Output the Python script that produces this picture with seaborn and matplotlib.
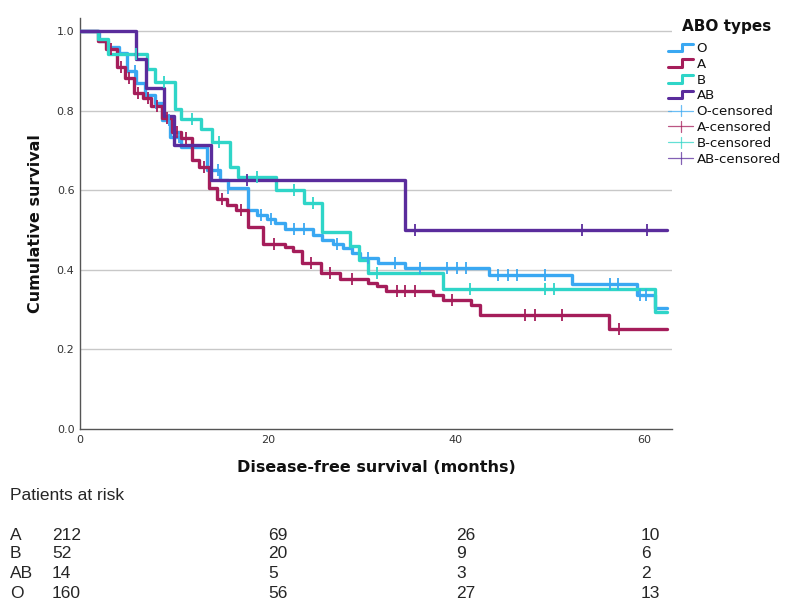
import numpy as np
import matplotlib
matplotlib.use("Agg")
import matplotlib.pyplot as plt
import seaborn as sns
from matplotlib.lines import Line2D
from matplotlib.legend_handler import HandlerBase

# ---------------- data ----------------
groups = ["O", "A", "B", "AB"]
colors = {"O": "#3AA8F2", "A": "#A51D5A", "B": "#2FD5C8", "AB": "#5A2C9C"}

O_times = [0, 2.0, 3.0, 4.1, 5.0, 6.0, 6.9, 8.0, 8.7, 9.6, 10.8, 13.5, 14.9, 15.8, 17.9,
           18.8, 19.9, 20.7, 21.8, 24.8, 25.8, 26.9, 28.0, 28.9, 29.8, 31.7, 34.6, 43.5,
           52.4, 59.3, 61.2, 62.5]
O_surv = [1.0, 0.975, 0.961, 0.944, 0.900, 0.870, 0.839, 0.818, 0.776, 0.734, 0.709, 0.651,
          0.626, 0.605, 0.550, 0.538, 0.528, 0.518, 0.502, 0.487, 0.476, 0.465, 0.454, 0.443,
          0.429, 0.418, 0.404, 0.387, 0.364, 0.336, 0.303, 0.303]
O_cens = [5.9, 8.1, 9.5, 10.5, 14.7, 15.8, 19.3, 20.3, 22.8, 23.8, 27.4, 30.6, 33.5, 36.2,
          39.1, 40.1, 41.1, 44.5, 45.5, 46.5, 49.5, 56.4, 57.3, 59.6, 60.2]

A_times = [0, 1.95, 2.8, 3.9, 4.8, 5.7, 6.7, 7.6, 8.7, 9.8, 10.8, 11.9, 12.7, 13.7, 14.6,
           15.6, 16.6, 17.9, 19.5, 21.8, 22.7, 23.6, 25.7, 27.7, 30.7, 31.6, 32.6, 37.6,
           38.6, 41.6, 42.6, 56.3, 62.5]
A_surv = [1.0, 0.976, 0.954, 0.910, 0.883, 0.843, 0.831, 0.812, 0.781, 0.747, 0.730, 0.676,
          0.659, 0.605, 0.577, 0.563, 0.549, 0.507, 0.465, 0.458, 0.448, 0.418, 0.391, 0.376,
          0.368, 0.359, 0.347, 0.337, 0.324, 0.312, 0.286, 0.251, 0.251]
A_cens = [3.3, 4.4, 5.2, 6.2, 7.2, 8.2, 9.3, 10.3, 11.3, 13.2, 15.1, 17.1, 20.6, 24.6, 26.6,
          28.9, 33.7, 34.6, 35.6, 39.6, 47.4, 48.4, 51.3, 57.4]

B_times = [0, 1.95, 3.0, 7.1, 8.0, 10.1, 10.7, 12.9, 14.0, 16.0, 16.8, 20.9, 23.8, 25.8,
           28.7, 29.7, 30.7, 38.6, 61.2, 62.5]
B_surv = [1.0, 0.981, 0.942, 0.904, 0.873, 0.803, 0.778, 0.755, 0.722, 0.659, 0.634, 0.600,
          0.567, 0.496, 0.460, 0.425, 0.391, 0.351, 0.295, 0.295]
B_cens = [6.0, 8.9, 11.9, 14.8, 18.8, 22.8, 24.8, 31.6, 41.5, 49.5, 50.4]

AB_times = [0, 6.0, 7.0, 8.9, 10.0, 13.9, 34.6, 62.5]
AB_surv = [1.0, 0.929, 0.857, 0.786, 0.714, 0.625, 0.5, 0.5]
AB_cens = [17.8, 35.6, 53.4, 60.3]

risk_rows = ["A", "B", "AB", "O"]
risk_times = [0, 20, 40, 60]
risk_A = [212, 69, 26, 10]
risk_B = [52, 20, 9, 6]
risk_AB = [14, 5, 3, 2]
risk_O = [160, 56, 27, 13]

curves = {
    "O": (O_times, O_surv, O_cens),
    "A": (A_times, A_surv, A_cens),
    "B": (B_times, B_surv, B_cens),
    "AB": (AB_times, AB_surv, AB_cens),
}
risk = {"A": risk_A, "B": risk_B, "AB": risk_AB, "O": risk_O}

# ---------------- style ----------------
sns.set_theme(style="white")
plt.rcParams["font.family"] = ["Liberation Sans Narrow", "Liberation Sans", "DejaVu Sans"]

W, H = 791, 613
fig = plt.figure(figsize=(W / 100, H / 100), dpi=100)
x0, x1, y0, y1 = 80, 672, 429, 18
ax = fig.add_axes([x0 / W, 1 - y0 / H, (x1 - x0) / W, (y0 - y1) / H])

for g in groups:
    t, s, c = curves[g]
    t = np.asarray(t, float)
    s = np.asarray(s, float)
    sns.lineplot(x=t, y=s, drawstyle="steps-post", color=colors[g], lw=2.4,
                 estimator=None, sort=False, ax=ax, zorder=3)
    c = np.asarray(c, float)
    cy = s[np.searchsorted(t, c, side="right") - 1]
    sns.scatterplot(x=c, y=cy, marker="|", s=70, color=colors[g], linewidth=1.3,
                    ax=ax, zorder=4)

ax.set_xlim(0, 63)
ax.set_ylim(0, (y0 - y1) / 398)
ax.set_yticks([0.0, 0.2, 0.4, 0.6, 0.8, 1.0])
ax.set_yticklabels(["0.0", "0.2", "0.4", "0.6", "0.8", "1.0"])
ax.set_xticks([0, 20, 40, 60])
ax.tick_params(axis="both", length=0, labelsize=8, colors="#333333", pad=4,
               labelfontfamily="DejaVu Sans")
for yv in [0.2, 0.4, 0.6, 0.8, 1.0]:
    ax.axhline(yv, color="#C8C8C8", lw=1.0, zorder=1)
for sp in ["top", "right"]:
    ax.spines[sp].set_visible(False)
for sp in ["left", "bottom"]:
    ax.spines[sp].set_color("#555555")
    ax.spines[sp].set_linewidth(1.0)

ax.set_xlabel("Disease-free survival (months)", fontsize=11.5, fontweight="bold",
              family="DejaVu Sans", color="#111111")
ax.xaxis.set_label_coords(0.5, -0.075)
ax.set_ylabel("Cumulative survival", fontsize=11.5, fontweight="bold",
              family="DejaVu Sans", color="#111111")
ax.yaxis.set_label_coords(-0.062, 0.5)


# ---------------- legend ----------------
class StepHandler(HandlerBase):
    def create_artists(self, legend, orig_handle, xdescent, ydescent, width, height,
                       fontsize, trans):
        xs = np.array([0, 0.55, 0.55, 1.0]) * width - xdescent
        ys = np.array([0.1, 0.1, 0.9, 0.9]) * height - ydescent
        ln = Line2D(xs, ys, color=orig_handle.get_color(), lw=2.2)
        ln.set_transform(trans)
        return [ln]


class CensHandler(HandlerBase):
    def create_artists(self, legend, orig_handle, xdescent, ydescent, width, height,
                       fontsize, trans):
        ym = 0.5 * height - ydescent
        ln = Line2D([-xdescent, width - xdescent], [ym, ym], color=orig_handle.get_color(),
                    lw=0.9, alpha=0.75)
        tk = Line2D([0.5 * width - xdescent] * 2, [ym - 0.6 * height, ym + 0.6 * height],
                    color=orig_handle.get_color(), lw=0.9, alpha=0.75)
        ln.set_transform(trans)
        tk.set_transform(trans)
        return [ln, tk]


class StepH(Line2D):
    pass


class CensH(Line2D):
    pass


handles, labels = [], []
for g in groups:
    handles.append(StepH([], [], color=colors[g]))
    labels.append(g)
for g in groups:
    handles.append(CensH([], [], color=colors[g]))
    labels.append(f"{g}-censored")

fig.text(682 / W, 1 - 26 / H, "ABO types", fontsize=11, fontweight="bold",
         family="DejaVu Sans", ha="left", va="center", color="#111111")
leg = fig.legend(handles, labels, loc="upper left", bbox_to_anchor=(668 / W, 1 - 42 / H),
                 frameon=False, handlelength=1.9, handletextpad=0.25, labelspacing=0.21,
                 borderaxespad=0, borderpad=0,
                 handler_map={StepH: StepHandler(), CensH: CensHandler()},
                 prop={"family": "DejaVu Sans", "size": 9.6})
for txt in leg.get_texts():
    txt.set_color("#111111")

# ---------------- risk table ----------------
fs = 12.5
fig.text(10 / W, 1 - 496 / H, "Patients at risk", fontsize=fs, va="center", ha="left")
col_px = [52, 268, 456, 641]
row_px = [535, 554, 574, 593]
for r, ypx in zip(risk_rows, row_px):
    fig.text(10 / W, 1 - ypx / H, r, fontsize=fs, va="center", ha="left")
    for v, xpx in zip(risk[r], col_px):
        fig.text(xpx / W, 1 - ypx / H, str(v), fontsize=fs, va="center", ha="left")

fig.savefig("out.png", dpi=100, facecolor="white")
